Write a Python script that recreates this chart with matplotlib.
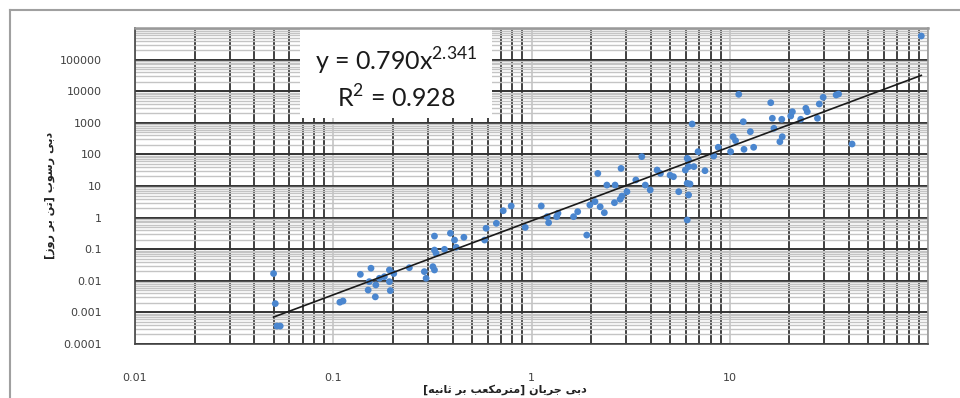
import matplotlib
matplotlib.use("Agg")
import matplotlib.pyplot as plt
import numpy as np
from matplotlib.ticker import LogLocator, FuncFormatter, NullFormatter
from matplotlib.patches import Rectangle
from matplotlib.lines import Line2D

# discharge (m3/s) and sediment load (ton/day)
q_flow = [0.050, 0.051, 0.052, 0.054, 0.108, 0.112, 0.137, 0.155, 0.152, 0.150,
          0.163, 0.164, 0.171, 0.181, 0.192, 0.202, 0.192, 0.194, 0.242, 0.288,
          0.294, 0.318, 0.324, 0.324, 0.324, 0.330, 0.364, 0.390, 0.409, 0.456,
          0.417, 0.58, 0.59, 0.665, 0.72, 0.79, 0.93, 1.12, 1.20, 1.22,
          1.34, 1.36, 1.63, 1.71, 1.90, 1.97, 2.09, 2.16, 2.22, 2.33,
          2.40, 2.64, 2.62, 2.83, 2.86, 2.80, 3.03, 3.36, 3.60, 3.75,
          3.97, 4.30, 4.47, 5.0, 5.2, 5.53, 5.97, 6.1, 6.2, 6.2,
          6.46, 6.1, 6.2, 6.59, 6.1, 6.3, 7.5, 6.92, 8.3, 8.75,
          10.1, 10.4, 10.7, 11.8, 13.2, 11.1, 11.7, 12.7, 16.1, 16.4,
          16.7, 17.9, 18.4, 18.3, 20.3, 20.7, 22.8, 24.2, 24.6, 27.7,
          28.3, 29.6, 34.4, 35.4, 41.4, 92.5]
q_sed = [0.017, 0.0019, 0.00037, 0.00037, 0.0021, 0.0023, 0.016, 0.025, 0.0094, 0.0051,
         0.0031, 0.0074, 0.012, 0.0135, 0.022, 0.017, 0.0094, 0.0049, 0.026, 0.0195,
         0.012, 0.028, 0.022, 0.26, 0.094, 0.074, 0.099, 0.32, 0.195, 0.238,
         0.115, 0.195, 0.46, 0.66, 1.65, 2.33, 0.49, 2.33, 1.07, 0.69,
         1.07, 1.37, 1.07, 1.54, 0.28, 2.5, 3.2, 25, 2.2, 1.43,
         10.7, 10.7, 2.96, 36, 4.8, 3.8, 6.6, 15.5, 85, 10.7,
         7.5, 32, 25, 22, 19.7, 6.6, 32, 0.84, 5.2, 66,
         916, 75, 41, 41, 12.2, 11.6, 30.5, 122, 89, 168,
         122, 363, 272, 145, 168, 7970, 1080, 524, 4330, 1390,
         670, 252, 363, 1290, 1640, 2240, 1290, 2880, 2240, 1390,
         3940, 6410, 7590, 8150, 213, 559000]

coef_a = 0.790
coef_b = 2.341
r2 = 0.928

# matplotlib does no arabic shaping, so pick presentation forms by hand
forms = {
    'د': ('\uFEA9', '\uFEAA', None, None),
    'ب': ('\uFE8F', '\uFE90', '\uFE91', '\uFE92'),
    'ی': ('\uFBFC', '\uFBFD', '\uFBFE', '\uFBFF'),
    'ج': ('\uFE9D', '\uFE9E', '\uFE9F', '\uFEA0'),
    'ر': ('\uFEAD', '\uFEAE', None, None),
    'ا': ('\uFE8D', '\uFE8E', None, None),
    'ن': ('\uFEE5', '\uFEE6', '\uFEE7', '\uFEE8'),
    'م': ('\uFEE1', '\uFEE2', '\uFEE3', '\uFEE4'),
    'ت': ('\uFE95', '\uFE96', '\uFE97', '\uFE98'),
    'ک': ('\uFB8E', '\uFB8F', '\uFB90', '\uFB91'),
    'ع': ('\uFEC9', '\uFECA', '\uFECB', '\uFECC'),
    'ث': ('\uFE99', '\uFE9A', '\uFE9B', '\uFE9C'),
    'ه': ('\uFEE9', '\uFEEA', '\uFEEB', '\uFEEC'),
    'س': ('\uFEB1', '\uFEB2', '\uFEB3', '\uFEB4'),
    'و': ('\uFEED', '\uFEEE', None, None),
    'ز': ('\uFEAF', '\uFEB0', None, None),
}


def shape_word(w):
    out = []
    for i, c in enumerate(w):
        iso, fin, ini, med = forms[c]
        prev_joins = i > 0 and forms[w[i - 1]][2] is not None
        next_joins = ini is not None and i < len(w) - 1
        if prev_joins and next_joins:
            out.append(med)
        elif prev_joins:
            out.append(fin)
        elif next_joins:
            out.append(ini)
        else:
            out.append(iso)
    return ''.join(reversed(out))


def rtl(text):
    return ' '.join(shape_word(w) for w in reversed(text.split(' ')))


xlabel = '[' + rtl('مترمکعب بر ثانیه') + '] ' + rtl('دبی جریان')
ylabel = '[' + rtl('تن بر روز') + '] ' + rtl('دبی رسوب')

plt.rcParams['mathtext.fontset'] = 'custom'
plt.rcParams['mathtext.rm'] = 'Lato'

fig = plt.figure(figsize=(9.6, 3.98), dpi=100)
ax = fig.add_axes([135 / 960, 1 - 344 / 398, 793 / 960, 316 / 398])

ax.set_xscale('log')
ax.set_yscale('log')
ax.set_xlim(0.01, 100)
ax.set_ylim(1e-4, 1e6)

ax.xaxis.set_major_locator(LogLocator(base=10, numticks=20))
ax.yaxis.set_major_locator(LogLocator(base=10, numticks=20))
ax.xaxis.set_minor_locator(LogLocator(base=10, subs=np.arange(2, 10), numticks=100))
ax.yaxis.set_minor_locator(LogLocator(base=10, subs=np.arange(2, 10), numticks=100))
ax.xaxis.set_minor_formatter(NullFormatter())
ax.yaxis.set_minor_formatter(NullFormatter())


def fmt(v, _, hide=None):
    if hide is not None and v >= hide * 0.999:
        return ''
    if v >= 1:
        return str(int(round(v)))
    return ('%.6f' % v).rstrip('0')


ax.xaxis.set_major_formatter(FuncFormatter(lambda v, p: fmt(v, p, 100)))
ax.yaxis.set_major_formatter(FuncFormatter(lambda v, p: fmt(v, p, 1e6)))

ax.grid(which='major', axis='x', color='#c4c4c4', lw=1.2)
ax.grid(which='minor', axis='x', color='#333333', lw=1.3)
ax.grid(which='major', axis='y', color='#333333', lw=1.4)
ax.grid(which='minor', axis='y', color='#c4c4c4', lw=1.0)
ax.set_axisbelow(True)

ax.tick_params(which='both', length=0)
ax.tick_params(axis='y', pad=24, labelsize=8, labelcolor='#404040')
ax.tick_params(axis='x', pad=21, labelsize=8, labelcolor='#404040')
for s in ax.spines.values():
    s.set_color('#444444')
    s.set_linewidth(1.2)
ax.spines['top'].set_color('#999999')
ax.spines['top'].set_linewidth(1.8)
ax.spines['right'].set_color('#999999')

ax.scatter(q_flow, q_sed, s=24, color='#4a86cf', edgecolors='none', zorder=3)

xs = np.geomspace(min(q_flow), max(q_flow), 50)
ax.plot(xs, coef_a * xs ** coef_b, color='#1a1a1a', lw=1.2, zorder=4)

# white box behind the trendline equation
ax.add_patch(Rectangle((0.208, 0.715), 0.242, 0.285, transform=ax.transAxes,
                       facecolor='white', edgecolor='none', zorder=2.5))
ax.text(0.329, 0.895, 'y = %.3fx$^{%.3f}$' % (coef_a, coef_b), transform=ax.transAxes,
        ha='center', va='center', fontsize=18, family='Lato', color='#1a1a1a', zorder=5)
ax.text(0.329, 0.78, 'R$^{2}$ = %.3f' % r2, transform=ax.transAxes,
        ha='center', va='center', fontsize=18, family='Lato', color='#1a1a1a', zorder=5)

fig.text(505 / 960, 1 - 390 / 398, xlabel, ha='center', va='center', fontsize=8,
         fontweight='bold', family=['DejaVu Sans'], color='#222222')
fig.text(50 / 960, 1 - 195 / 398, ylabel, ha='center', va='center', fontsize=8,
         fontweight='bold', family=['DejaVu Sans'], rotation=90, color='#222222')

# outer frame of the chart area
fig.add_artist(Line2D([10 / 960, 10 / 960], [0, 1 - 10 / 398], color='#a0a0a0', lw=1.5))
fig.add_artist(Line2D([10 / 960, 1], [1 - 10 / 398, 1 - 10 / 398], color='#a0a0a0', lw=1.5))

fig.savefig('out.png', dpi=100)
